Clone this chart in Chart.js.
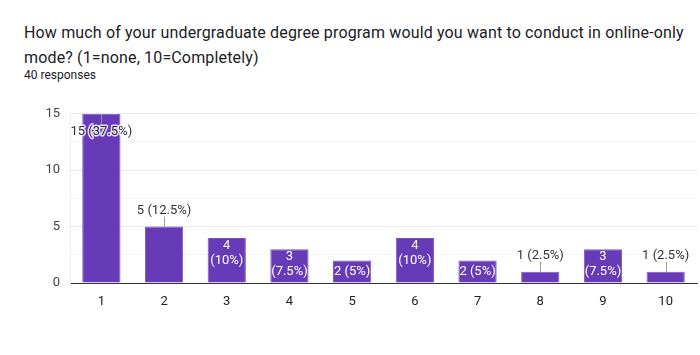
<!DOCTYPE html>
<html>
<head>
<meta charset="utf-8">
<script src="https://cdn.jsdelivr.net/npm/chart.js@4.4.1/dist/chart.umd.min.js"></script>
<style>
  html, body { margin: 0; padding: 0; background: #fff; width: 700px; height: 355px; overflow: hidden; }
  #title { position: absolute; left: 24px; top: 20px; font-family: Roboto, "Open Sans", sans-serif; font-size: 16px; line-height: 25px; color: #202124; letter-spacing: 0.15px; }
  #sub { position: absolute; left: 24px; top: 68px; font-family: Roboto, sans-serif; font-size: 12px; color: #202124; }
  #wrap { position: absolute; left: 0; top: 96px; width: 700px; height: 217px; }
</style>
</head>
<body>
<div id="title">How much of your undergraduate degree program would you want to conduct in online-only<br>mode? (1=none, 10=Completely)</div>
<div id="sub">40 responses</div>
<div id="wrap"><canvas id="c"></canvas></div>
<script>
const categories = ['1','2','3','4','5','6','7','8','9','10'];
const counts = [15, 5, 4, 3, 2, 4, 2, 1, 3, 1];
const yTicks = [0, 5, 10, 15];

const total = counts.reduce((a, b) => a + b, 0);
const pct = v => {
  const p = Math.round(v / total * 1000) / 10;
  return p + '%';
};

const labelPlugin = {
  id: 'barLabels',
  afterDatasetsDraw(chart) {
    const ctx = chart.ctx;
    const meta = chart.getDatasetMeta(0);
    const area = chart.chartArea;
    ctx.save();
    ctx.font = '13px Roboto, Arial, sans-serif';
    ctx.textAlign = 'center';
    ctx.textBaseline = 'middle';
    meta.data.forEach((bar, i) => {
      const v = counts[i];
      const one = v + ' (' + pct(v) + ')';
      const l1 = String(v), l2 = '(' + pct(v) + ')';
      const w = bar.width + 1;
      const h = bar.base - bar.y;
      const x = bar.x;
      if (ctx.measureText(one).width <= w && h >= 18) {
        ctx.fillStyle = '#ffffff';
        ctx.fillText(one, x, (bar.y + bar.base) / 2);
      } else if (ctx.measureText(l2).width <= w && h >= 32) {
        ctx.fillStyle = '#ffffff';
        ctx.fillText(l1, x, bar.y + 8);
        ctx.fillText(l2, x, bar.y + 23);
      } else {
        let lineEnd, ty;
        if (bar.y - 18 < area.top) {
          lineEnd = bar.y + 10; ty = bar.y + 18;
        } else {
          lineEnd = bar.y - 10; ty = bar.y - 16;
        }
        ctx.strokeStyle = '#999999';
        ctx.lineWidth = 1;
        ctx.beginPath();
        ctx.moveTo(Math.round(x) + 0.5, bar.y);
        ctx.lineTo(Math.round(x) + 0.5, lineEnd);
        ctx.stroke();
        ctx.lineWidth = 3;
        ctx.strokeStyle = 'rgba(255,255,255,0.8)';
        ctx.lineJoin = 'round';
        ctx.strokeText(one, x, ty);
        ctx.fillStyle = '#333333';
        ctx.fillText(one, x, ty);
      }
    });
    ctx.restore();
  }
};

new Chart(document.getElementById('c'), {
  type: 'bar',
  data: {
    labels: categories,
    datasets: [{
      data: counts,
      backgroundColor: '#673ab7',
      borderColor: '#7b55c4',
      borderWidth: 1,
      barPercentage: 0.61,
      categoryPercentage: 1.0
    }]
  },
  options: {
    responsive: true,
    maintainAspectRatio: false,
    animation: false,
    layout: { padding: { left: 0, right: 3, top: 9, bottom: 0 } },
    plugins: { legend: { display: false }, tooltip: { enabled: false }, title: { display: false } },
    scales: {
      x: {
        grid: { display: false },
        border: { display: true, color: '#333333', width: 1 },
        ticks: { color: '#222222', font: { family: 'Roboto, Arial, sans-serif', size: 13 }, padding: 3 },
        afterFit(s) { s.height = 30; }
      },
      y: {
        min: 0, max: 15,
        afterBuildTicks(s) {
          s.ticks = [0, 2.5, 5, 7.5, 10, 12.5, 15].map(v => ({ value: v }));
        },
        ticks: {
          color: '#444444',
          font: { family: 'Roboto, Arial, sans-serif', size: 13 },
          padding: 10,
          callback: v => (yTicks.includes(v) ? String(v) : '')
        },
        grid: {
          drawTicks: false,
          color: c => (c.tick && c.tick.value % 5 === 0 ? '#e8e8e8' : '#f4f4f4')
        },
        border: { display: true, color: '#eeeeee' },
        afterFit(s) { s.width = 70; }
      }
    }
  },
  plugins: [labelPlugin]
});
</script>
</body>
</html>
